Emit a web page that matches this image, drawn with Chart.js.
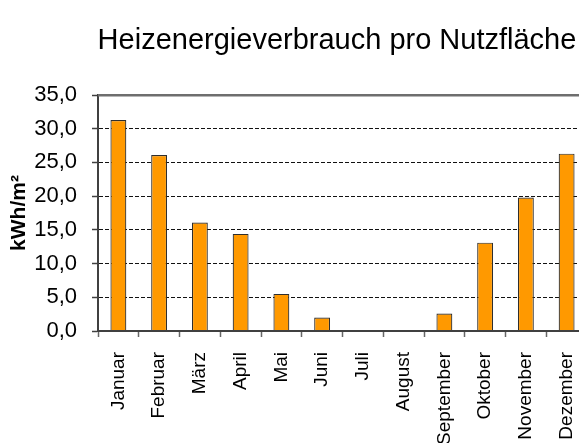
<!DOCTYPE html>
<html>
<head>
<meta charset="utf-8">
<script src="https://cdn.jsdelivr.net/npm/chart.js@4/dist/chart.umd.min.js"></script>
<style>
  html, body { margin: 0; padding: 0; background: #fff; overflow: hidden; }
  #wrap { width: 674px; height: 443px; }
</style>
</head>
<body>
<div id="wrap"><canvas id="c" width="674" height="443"></canvas></div>
<script>
const chartTitle = 'Heizenergieverbrauch pro Nutzfläche';
const yAxisTitle = 'kWh/m²';
const months = ['Januar','Februar','März','April','Mai','Juni','Juli','August','September','Oktober','November','Dezember'];
const values = [31.3, 26.1, 16.1, 14.4, 5.5, 2.0, 0, 0, 2.6, 13.1, 19.8, 26.3];
const yTickLabels = ['0,0','5,0','10,0','15,0','20,0','25,0','30,0','35,0'];

const FONT = "'Liberation Sans', Arial, sans-serif";

const plotTopBorder = {
  id: 'plotTopBorder',
  afterDraw(chart) {
    const ctx = chart.ctx;
    const area = chart.chartArea;
    ctx.save();
    ctx.setLineDash([]);
    ctx.fillStyle = '#6e6e6e';
    ctx.fillRect(area.left, area.top - 1, area.right - area.left, 2.5);
    ctx.restore();
  }
};

new Chart(document.getElementById('c'), {
  type: 'bar',
  plugins: [plotTopBorder],
  data: {
    labels: months,
    datasets: [{
      data: values,
      backgroundColor: '#FF9900',
      borderColor: '#2e2e2e',
      borderWidth: 1.2,
      borderSkipped: 'start',
      categoryPercentage: 1.0,
      barPercentage: 0.39
    }]
  },
  options: {
    responsive: false,
    animation: false,
    devicePixelRatio: 1,
    layout: { padding: 0 },
    plugins: {
      legend: { display: false },
      tooltip: { enabled: false },
      title: {
        display: true,
        text: chartTitle,
        color: '#000',
        font: { family: FONT, size: 29, weight: 'normal', lineHeight: 1.2 },
        padding: { top: 24, bottom: 36.2 }
      }
    },
    scales: {
      x: {
        type: 'category',
        position: 'bottom',
        offset: true,
        grid: {
          display: true,
          drawOnChartArea: false,
          drawTicks: true,
          tickLength: 6,
          tickColor: '#666666',
          tickWidth: 1.5,
          offset: true
        },
        border: { display: true, color: '#404040', width: 2, z: 1 },
        ticks: {
          autoSkip: false,
          minRotation: 90,
          maxRotation: 90,
          padding: 15,
          color: '#000',
          font: { family: FONT, size: 19 }
        },
        afterFit: (s) => { s.height = 112; }
      },
      y: {
        type: 'linear',
        position: 'left',
        min: 0,
        max: 35,
        ticks: {
          stepSize: 5,
          padding: 15,
          color: '#000',
          font: { family: FONT, size: 22 },
          callback: (v, i) => yTickLabels[i]
        },
        grid: {
          display: true,
          drawTicks: true,
          tickLength: 6,
          lineWidth: 1,
          color: (ctx) => (ctx.tick && ctx.tick.value === 35) ? 'rgba(0,0,0,0)' : '#111111',
          tickColor: '#404040',
          tickWidth: 1.5
        },
        border: { display: true, color: '#404040', width: 2, dash: [4, 2], z: 1 },
        title: {
          display: true,
          text: yAxisTitle,
          color: '#000',
          font: { family: FONT, size: 21, weight: 'bold', lineHeight: 1.2 },
          padding: { top: 7, bottom: 0 }
        },
        afterFit: (s) => { s.width = 98; }
      },
      y2: {
        type: 'linear',
        position: 'right',
        display: true,
        grid: { display: false, drawTicks: false },
        border: { display: false },
        ticks: { display: false },
        afterFit: (s) => { s.width = 87; }
      }
    }
  }
});
</script>
</body>
</html>
